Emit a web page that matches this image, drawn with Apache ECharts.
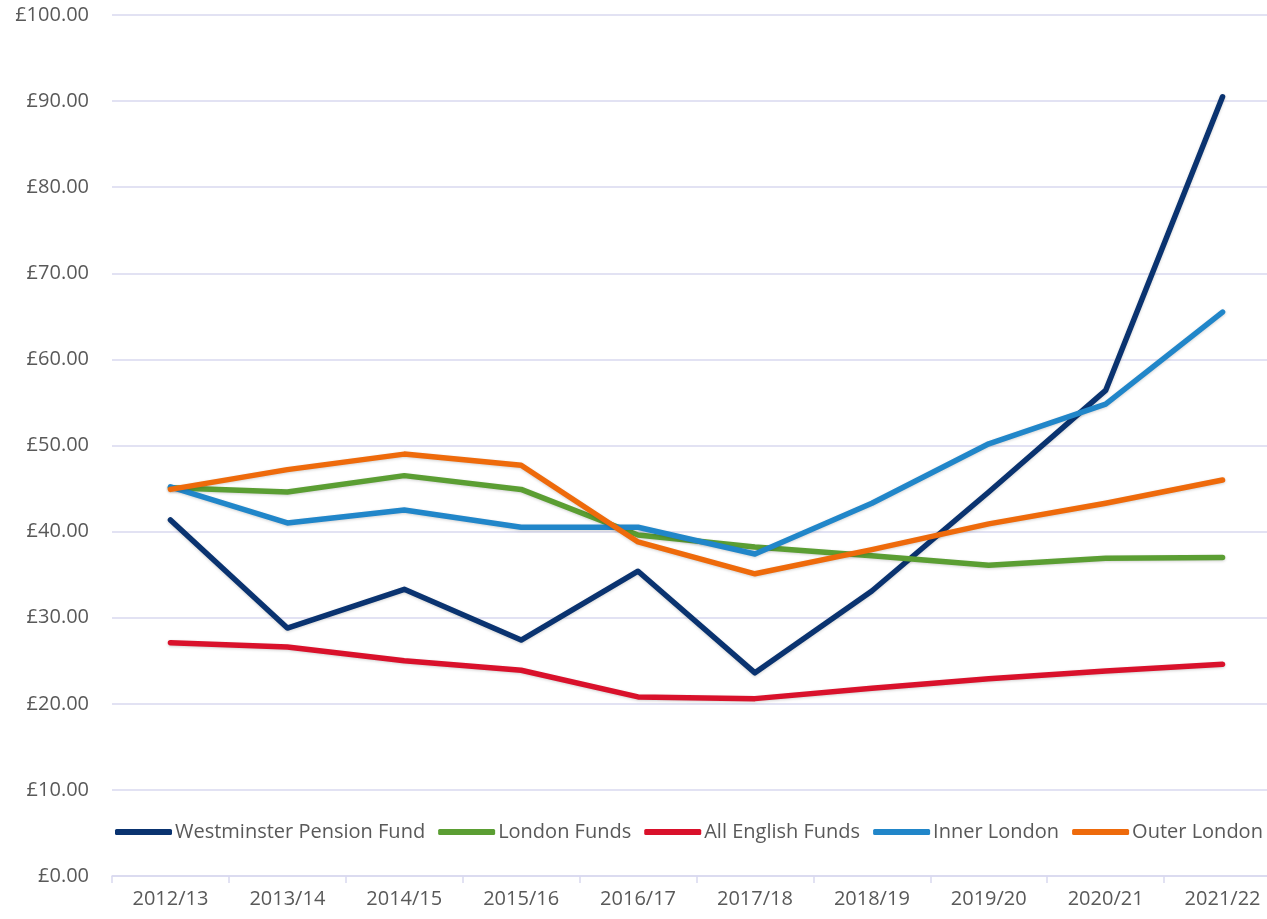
<!DOCTYPE html>
<html>
<head>
<meta charset="utf-8">
<script src="https://cdn.jsdelivr.net/npm/echarts@6/dist/echarts.min.js"></script>
<style>
  html, body { margin: 0; padding: 0; background: #fff; overflow: hidden; width: 1267px; height: 919px; }
  /* 绘图区右侧超出画布（与原图一致），所以容器比窗口宽 */
  #chart { width: 1285px; height: 919px; }
</style>
</head>
<body>
<div id="chart"></div>
<script>
const years = ['2012/13', '2013/14', '2014/15', '2015/16', '2016/17', '2017/18', '2018/19', '2019/20', '2020/21', '2021/22'];

const westminster = [41.35, 28.8, 33.3, 27.4, 35.4, 23.6, 33.1, 44.6, 56.4, 90.5];
const londonFunds = [45.1, 44.6, 46.5, 44.9, 39.6, 38.2, 37.2, 36.1, 36.9, 37.0];
const allEnglish = [27.1, 26.6, 25.0, 23.9, 20.8, 20.6, 21.8, 22.9, 23.8, 24.6];
const innerLondon = [45.2, 41.0, 42.5, 40.5, 40.5, 37.4, 43.3, 50.2, 54.8, 65.5];
const outerLondon = [44.9, 47.2, 49.0, 47.7, 38.8, 35.1, 37.9, 40.9, 43.3, 46.0];

const font = '"Open Sans", "Noto Sans", sans-serif';
const fs = 20;

const chart = echarts.init(document.getElementById('chart'));

// 线条样式统一
const mk = (name, data, color) => ({
  name: name,
  type: 'line',
  data: data,
  symbol: 'none',
  lineStyle: {
    width: 5.5, color: color, cap: 'round', join: 'round',
    shadowColor: 'rgba(0,0,0,0.18)', shadowBlur: 3, shadowOffsetY: 1
  },
  itemStyle: { color: color }
});

chart.setOption({
  animation: false,
  textStyle: { fontFamily: font },
  grid: { left: 112, width: 1169, top: 15, bottom: 43, containLabel: false },
  legend: {
    left: 115, top: 822, padding: 0,
    icon: 'roundRect',
    itemWidth: 57, itemHeight: 6, itemGap: 13,
    textStyle: { fontSize: fs, color: '#595959', fontFamily: font, padding: [0, 0, 0, -2] },
    data: ['Westminster Pension Fund', 'London Funds', 'All English Funds', 'Inner London', 'Outer London']
  },
  xAxis: {
    type: 'category',
    data: years,
    boundaryGap: true,
    axisLine: { lineStyle: { color: '#d9d9ef', width: 1.5 } },
    axisTick: { show: true, length: 7, lineStyle: { color: '#d9d9ef', width: 1.5 } },
    axisLabel: { color: '#595959', fontSize: fs, margin: 13, fontFamily: font }
  },
  yAxis: {
    type: 'value',
    min: 0, max: 100, interval: 10,
    axisLine: { show: false },
    axisTick: { show: false },
    splitLine: { lineStyle: { color: '#d9d9ef', width: 1.5 } },
    axisLabel: {
      color: '#595959', fontSize: fs, margin: 23, fontFamily: font,
      formatter: v => '£' + v.toFixed(2)
    }
  },
  series: [
    mk('Westminster Pension Fund', westminster, '#0a3370'),
    mk('London Funds', londonFunds, '#5b9e33'),
    mk('All English Funds', allEnglish, '#d9112b'),
    mk('Inner London', innerLondon, '#2186c9'),
    mk('Outer London', outerLondon, '#ee6a0b')
  ]
});

window.addEventListener('resize', () => chart.resize());
</script>
</body>
</html>
